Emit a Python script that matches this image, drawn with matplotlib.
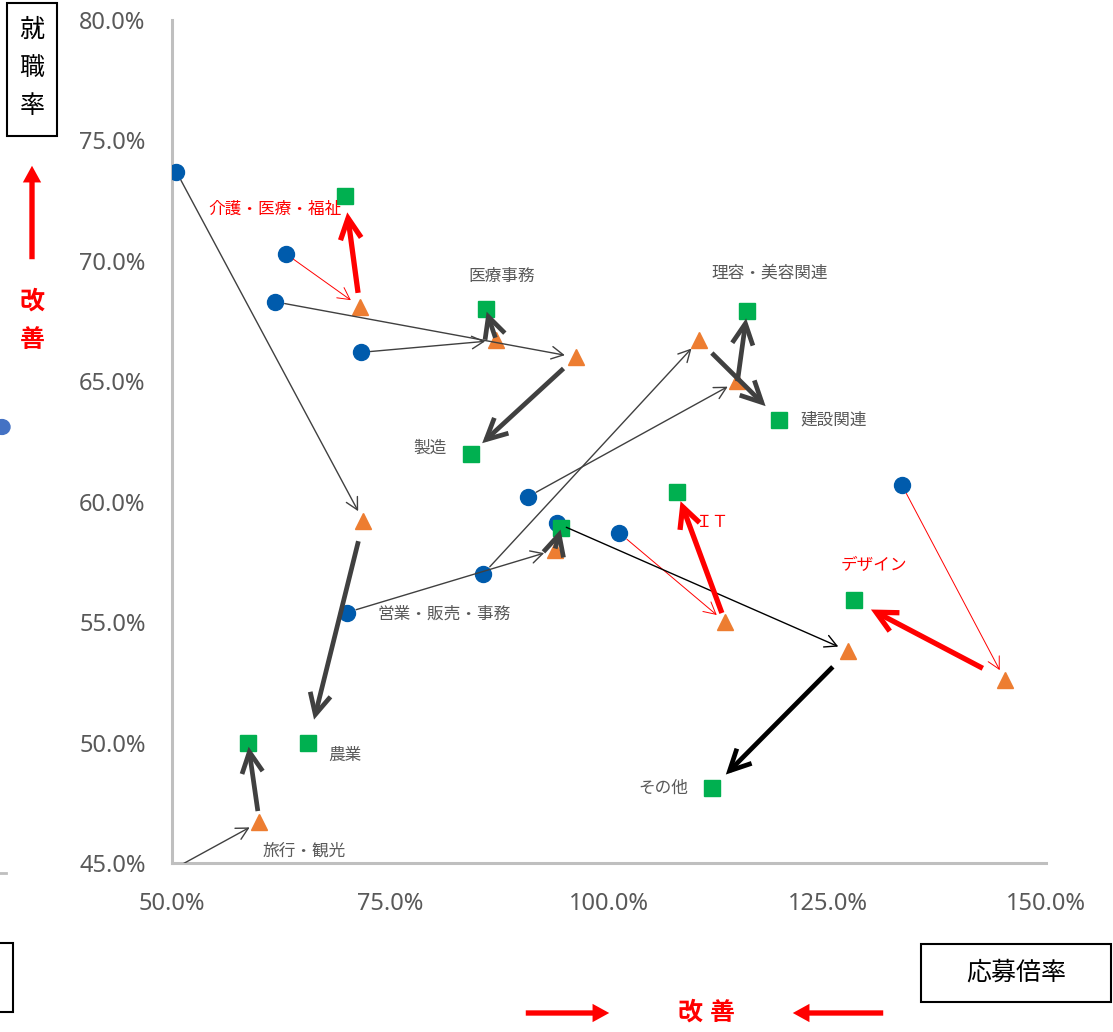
"""
Scatter of job-placement rate vs application ratio by course field,
showing movement start -> middle -> end with arrows.
"""
import matplotlib
matplotlib.use('Agg')
from matplotlib import pyplot as plt
from matplotlib.patches import FancyArrowPatch, Rectangle, Circle
from matplotlib.lines import Line2D

plt.rcParams['font.family'] = ['Noto Sans CJK JP', 'DejaVu Sans']

# Field names
categories = ['介護・医療・福祉', '医療事務', '製造', '理容・美容関連', '建設関連',
              '農業', '営業・販売・事務', 'ＩＴ', 'その他', 'デザイン', '旅行・観光']

# Application ratio (%) / placement rate (%) at each stage
start_x = [63.0, 71.6, 61.8, 90.7, 85.6, 50.5, 70.0, 101.2, 94.1, 133.5, 46.9]
start_y = [70.3, 66.2, 68.3, 60.2, 57.0, 73.7, 55.4, 58.7, 59.1, 60.7, 44.1]
mid_x = [71.5, 87.1, 96.2, 114.7, 110.3, 71.9, 93.8, 113.3, 127.4, 145.3, 60.0]
mid_y = [68.1, 66.7, 66.0, 65.0, 66.7, 59.2, 58.0, 55.0, 53.8, 52.6, 46.7]
end_x = [69.8, 85.9, 84.2, 115.8, 119.5, 65.6, 94.5, 107.8, 111.8, 128.0, 58.7]
end_y = [72.7, 68.0, 62.0, 67.9, 63.4, 50.0, 58.9, 60.4, 48.1, 55.9, 50.0]

# Colour group for arrows and labels
group = ['red', 'gray', 'gray', 'gray', 'gray', 'gray', 'gray', 'red', 'black', 'red', 'gray']

# Label offsets from the end marker (pixels)
label_off = [(-70, -13), (16, 33), (-41, 5), (23, 38), (54, 0), (37, -13),
             (-117, -86), (35, -30), (-49, 0), (20, 35), (56, -109)]
# Shrink of the thick arrows at each end (points)
thick_shrink = [(10, 12), (2, 2), (12, 11), (0, 5), (13, 14), (15, 17),
                (1, 1), (7, 7), (16, 14), (18, 14), (8, 3)]

thin_color = {'red': '#FF0000', 'gray': '#404040', 'black': '#000000'}
thick_color = {'red': '#FF0000', 'gray': '#404040', 'black': '#000000'}
text_color = {'red': '#FF0000', 'gray': '#595959', 'black': '#595959'}

W, H = 1113, 1032
fig = plt.figure(figsize=(W / 100, H / 100), dpi=100)
ax = fig.add_axes([172 / W, 1 - 863 / H, (1046 - 172) / W, (863 - 20) / H])

ax.set_xlim(50, 150)
ax.set_ylim(45, 80)

# Markers
ax.plot(start_x, start_y, 'o', color='#005BAC', markersize=11.5, zorder=3, linestyle='none')
ax.plot(mid_x, mid_y, '^', color='#ED7D31', markersize=11.5, zorder=4, linestyle='none')
ax.plot(end_x, end_y, 's', color='#00B050', markersize=11, zorder=5, linestyle='none')

# Arrows
for i, name in enumerate(categories):
    g = group[i]
    thin = FancyArrowPatch((start_x[i], start_y[i]), (mid_x[i], mid_y[i]),
                           arrowstyle='->,head_length=0.85,head_width=0.45',
                           mutation_scale=10, color=thin_color[g],
                           lw=0.7 if g == 'red' else 1.0,
                           shrinkA=7, shrinkB=8, zorder=6)
    ax.add_patch(thin)
    sa, sb = thick_shrink[i]
    thick = FancyArrowPatch((mid_x[i], mid_y[i]), (end_x[i], end_y[i]),
                            arrowstyle='->,head_length=1.5,head_width=0.75',
                            mutation_scale=10, color=thick_color[g],
                            lw=3.8 if g == 'red' else 3.4,
                            shrinkA=sa, shrinkB=sb, zorder=7,
                            capstyle='butt', joinstyle='miter')
    ax.add_patch(thick)
    ax.annotate(name, (end_x[i], end_y[i]), xytext=label_off[i],
                textcoords='offset pixels', ha='center', va='center',
                fontsize=12, color=text_color[g], zorder=8)

# Axes styling
for side in ['top', 'right']:
    ax.spines[side].set_visible(False)
for side in ['left', 'bottom']:
    ax.spines[side].set_color('#BFBFBF')
    ax.spines[side].set_linewidth(2.2)
ax.set_xticks([50, 75, 100, 125, 150])
ax.set_yticks([45, 50, 55, 60, 65, 70, 75, 80])
ax.set_xticklabels(['{:.1f}%'.format(v) for v in ax.get_xticks()])
ax.set_yticklabels(['{:.1f}%'.format(v) for v in ax.get_yticks()])
ax.tick_params(axis='both', length=0, labelsize=17, labelcolor='#595959')
ax.tick_params(axis='x', pad=21)
ax.tick_params(axis='y', pad=19)
for lab in ax.get_xticklabels() + ax.get_yticklabels():
    lab.set_family(['Noto Sans', 'DejaVu Sans'])


def fp(x, y):
    # pixel position in the picture -> figure fraction
    return x / W, 1 - y / H


# Y axis title box
fig.add_artist(Rectangle(fp(7, 136), 50 / W, 133 / H, transform=fig.transFigure,
                         fill=False, edgecolor='black', lw=1.5))
for ch, yy in zip('就職率', [30, 68, 106]):
    fig.text(*fp(32, yy), ch, ha='center', va='center', fontsize=18, color='black')

# X axis title box
fig.add_artist(Rectangle(fp(921, 1002), 190 / W, 58 / H, transform=fig.transFigure,
                         fill=False, edgecolor='black', lw=1.5))
fig.text(*fp(1016, 973), '応募倍率', ha='center', va='center', fontsize=18, color='black')

# "improvement" markers
arrow_style = 'simple,head_width=1.1,head_length=1.0,tail_width=0.32'
fig.add_artist(FancyArrowPatch(fp(32, 262), fp(32, 163), transform=fig.transFigure,
                               arrowstyle=arrow_style, mutation_scale=12,
                               color='#FF0000', lw=0))
for ch, yy in zip('改善', [302, 340]):
    fig.text(*fp(32, yy), ch, ha='center', va='center', fontsize=18,
             color='#FF0000', fontweight='bold')

fig.add_artist(FancyArrowPatch(fp(523, 1013), fp(612, 1013), transform=fig.transFigure,
                               arrowstyle=arrow_style, mutation_scale=12,
                               color='#FF0000', lw=0))
fig.add_artist(FancyArrowPatch(fp(886, 1013), fp(790, 1013), transform=fig.transFigure,
                               arrowstyle=arrow_style, mutation_scale=12,
                               color='#FF0000', lw=0))
for ch, xx in zip('改善', [690, 722]):
    fig.text(*fp(xx, 1013), ch, ha='center', va='center', fontsize=18,
             color='#FF0000', fontweight='bold')

# Bits of a neighbouring chart cut off at the left edge
fig.add_artist(Circle(fp(2, 427), 8 / W, transform=fig.transFigure, color='#4472C4'))
fig.add_artist(Line2D([0, 6 / W], [1 - 873 / H] * 2, transform=fig.transFigure,
                      color='#BFBFBF', lw=2))
fig.add_artist(Rectangle(fp(-10, 1012), 23 / W, 69 / H, transform=fig.transFigure,
                         fill=False, edgecolor='black', lw=1.5))

plt.savefig('out.png', dpi=100)
print("Done")
